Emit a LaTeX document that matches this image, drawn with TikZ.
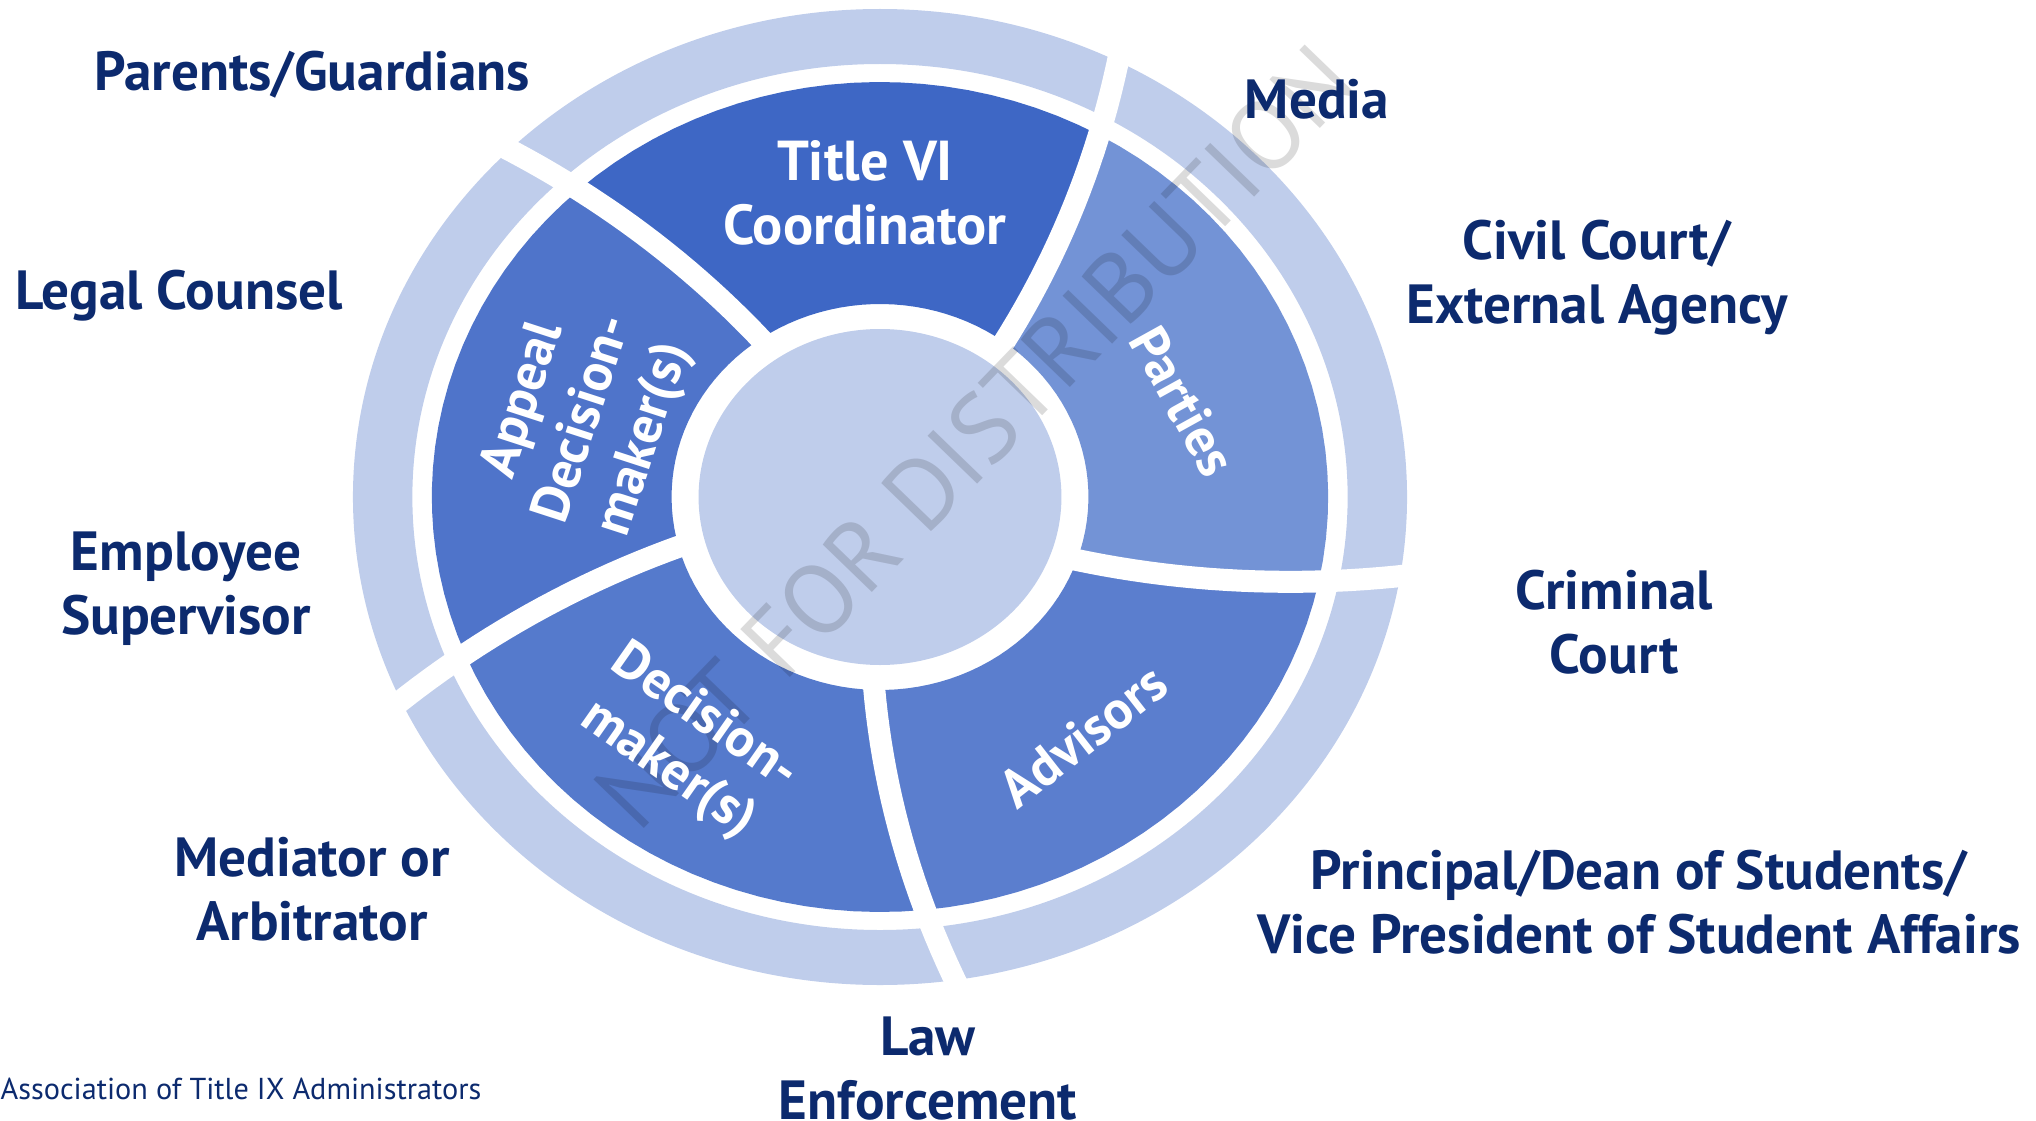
\documentclass[tikz,border=0pt]{standalone}
\usepackage{fontspec}
\setmainfont{PT Sans}
\definecolor{navy}{HTML}{0C2A6E}
\definecolor{ringlight}{HTML}{BFCDEB}
\definecolor{titleblue}{HTML}{3E67C5}
\definecolor{appealblue}{HTML}{4F74CA}
\definecolor{decblue}{HTML}{557ACC}
\definecolor{advblue}{HTML}{5B7ECE}
\definecolor{partyblue}{HTML}{7393D6}
\tikzset{
  party/.style={text=navy, font=\bfseries\fontsize{15.7}{18.2}\selectfont, align=center},
  role/.style={text=white, font=\bfseries\fontsize{15.3}{18}\selectfont, align=center},
  gapline/.style={white, line width=0.22cm}
}
\begin{document}
\begin{tikzpicture}[x=0.01cm, y=0.01cm]
\useasboundingbox (0,0) rectangle (2036,1120);

% wheel
\begin{scope}[shift={(880,623)}, xscale=1.08]
  \fill[ringlight, even odd rule] (0,0) circle[radius=488] (0,0) circle[radius=433];
  \foreach \sa/\sb/\col in {53.5/125/titleblue, 125/195/appealblue, 195/268.5/decblue, 268.5/341/advblue, 341/413.5/partyblue}
    \fill[\col] plot[domain=193:415] ({\sa+0.033*(\x-195)}:\x)
      -- plot[domain=\sa+7.26:\sb+7.26] (\x:415)
      -- plot[domain=415:193] ({\sb+0.033*(\x-195)}:\x)
      -- plot[domain=\sb-0.066:\sa-0.066] (\x:193) -- cycle;
  \fill[ringlight] (0,0) circle[radius=168];
  \foreach \a in {53.5,125,195,268.5,341}
    \draw[gapline] plot[domain=176:512] ({\a+0.033*(\x-195)}:\x);
\end{scope}

\node[rotate=46, text=black, opacity=0.14, font=\fontsize{28}{28}\selectfont] (mark) at (975,683) {NOT FOR DISTRIBUTION};

% roles in the wheel
\node[role, font=\bfseries\fontsize{16}{18.2}\selectfont] (title) at (865,927) {Title VI\\Coordinator};
\node[role, rotate=-61] (parties) at (1183,719) {Parties};
\node[role, rotate=38] (advisors) at (1083,384) {Advisors};
\node[role, rotate=-35] (decision) at (686,376) {Decision-\\maker(s)};
\node[role, rotate=72] (appeal) at (585,700) {Appeal\\Decision-\\maker(s)};

% parties around the wheel
\node[party] (parents) at (312,1045) {Parents/Guardians};
\node[party] (media) at (1317,1021) {Media};
\node[party] (civil) at (1597,842) {Civil Court/\\External Agency};
\node[party] (legal) at (179,824) {Legal Counsel};
\node[party] (criminal) at (1614,498) {Criminal\\Court};
\node[party] (employee) at (186,531) {Employee\\Supervisor};
\node[party] (mediator) at (312,231) {Mediator or\\Arbitrator};
\node[party] (principal) at (1639,218) {Principal/Dean of Students/\\Vice President of Student Affairs};
\node[party] (law) at (928,51) {Law\\Enforcement};

\node[anchor=west, inner sep=0pt, text=navy, font=\fontsize{8.6}{10}\selectfont] (atixa) at (0,31) {Association of Title IX Administrators};
\end{tikzpicture}
\end{document}
